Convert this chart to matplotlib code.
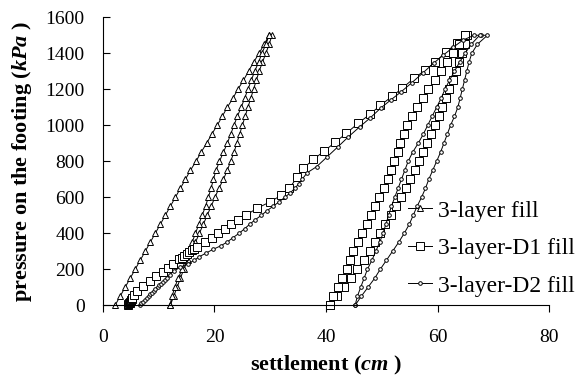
import matplotlib
matplotlib.use("Agg")
import matplotlib.pyplot as plt

plt.rcParams["font.family"] = ["Liberation Serif", "DejaVu Serif"]
plt.rcParams["mathtext.fontset"] = "custom"
plt.rcParams["mathtext.rm"] = "Liberation Serif:bold"
plt.rcParams["mathtext.it"] = "Liberation Serif:bold:italic"
plt.rcParams["mathtext.bf"] = "Liberation Serif:bold"

# pressure levels (kPa) used for the unloading / reloading branches
pressure_step = [0, 50, 100, 150, 200, 250, 300, 350, 400, 450, 500, 550, 600, 650, 700,
                 750, 800, 850, 900, 950, 1000, 1050, 1100, 1150, 1200, 1250, 1300, 1350,
                 1400, 1450, 1500]
pressure_down = [1500, 1450, 1400, 1350, 1300, 1250, 1200, 1150, 1100, 1050, 1000, 950, 900,
                 850, 800, 750, 700, 650, 600, 550, 500, 450, 400, 350, 300, 250, 200, 150,
                 100, 50, 0]

# ---- 3-layer fill (settlement, cm) ----
tri_load_p = pressure_step
tri_load_s = [2.2, 3.1, 4.0, 4.9, 5.8, 6.7, 7.6, 8.5, 9.4, 10.3, 11.2, 12.1, 13.0, 13.9, 14.8,
              15.7, 16.7, 17.6, 18.6, 19.5, 20.5, 21.4, 22.3, 23.3, 24.2, 25.2, 26.1, 27.0,
              28.0, 28.9, 29.8]
tri_unload_s = [30.3, 29.8, 29.2, 28.6, 28.0, 27.5, 27.0, 26.5, 26.0, 25.5, 25.0, 24.5, 24.0,
                23.5, 22.9, 22.3, 21.6, 20.8, 20.1, 19.4, 18.7, 18.0, 17.3, 16.6, 15.9, 15.2,
                14.5, 13.9, 13.3, 12.7, 12.1]
tri_reload_s = [12.0, 12.4, 12.9, 13.5, 14.2, 14.8, 15.4, 16.0, 16.6, 17.2, 17.8, 18.4, 18.9,
                19.4, 19.8, 20.3, 20.9, 21.6, 22.3, 22.9, 23.5, 24.1, 24.8, 25.4, 26.0, 26.6,
                27.2, 27.9, 28.5, 29.2, 29.8]

# ---- 3-layer-D1 fill ----
sq_load_p = [0, 5, 10, 15, 20, 25, 30, 35, 40, 55, 78, 105, 133, 160, 183, 205, 230, 255, 265,
             275, 285, 295, 305, 315, 325, 350, 375, 400, 425, 450, 475, 500, 540, 575, 610,
             650, 710, 760, 810, 855, 905, 955, 1010, 1060, 1110, 1160, 1205, 1260, 1305,
             1350, 1405, 1455, 1500]
sq_load_s = [4.5, 4.6, 4.7, 4.8, 4.9, 5.0, 5.1, 5.2, 5.3, 5.5, 6.1, 7.2, 8.4, 9.6, 10.7, 11.7,
             12.6, 13.6, 14.1, 14.5, 15.0, 15.5, 15.9, 16.4, 16.9, 18.3, 19.6, 20.6, 21.9,
             23.0, 24.3, 25.6, 27.7, 30.0, 31.9, 33.4, 34.8, 35.9, 37.7, 39.6, 41.6, 43.6,
             45.7, 47.8, 49.7, 51.8, 53.6, 55.7, 57.7, 59.5, 61.4, 63.4, 64.9]
sq_unload_s = [65.2, 64.8, 64.3, 63.8, 63.2, 62.7, 62.1, 61.4, 60.8, 60.2, 59.5, 58.8, 58.1,
               57.4, 56.7, 55.9, 55.1, 54.3, 53.5, 52.5, 51.6, 50.6, 49.6, 48.7, 47.8, 46.7,
               45.6, 44.4, 43.2, 42.0, 40.7]
sq_reload_s = [40.7, 41.3, 42.1, 42.9, 43.7, 44.3, 44.9, 45.7, 46.5, 47.3, 48.1, 48.8, 49.5,
               50.3, 51.0, 51.6, 52.2, 52.8, 53.3, 53.9, 54.5, 55.4, 56.3, 57.3, 58.3, 59.5,
               60.6, 61.7, 62.7, 63.8, 64.9]

# ---- 3-layer-D2 fill ----
ci_load_p = [0, 10, 20, 30, 40, 50, 60, 70, 80, 90, 100, 110, 120, 130, 140, 150, 170, 190,
             210, 230, 250, 270, 290, 310, 330, 350, 375, 400, 425, 450, 475, 500, 525, 550,
             575, 600, 625, 650, 675, 700, 736, 770, 825, 880, 936, 991, 1041, 1096, 1141,
             1185, 1235, 1290, 1346, 1390, 1434, 1473, 1500, 1500]
ci_load_s = [6.6, 6.9, 7.2, 7.5, 7.9, 8.2, 8.5, 8.8, 9.1, 9.4, 9.8, 10.1, 10.4, 10.8, 11.1,
             11.5, 12.0, 12.7, 13.8, 15.2, 16.4, 17.3, 18.5, 19.7, 21.1, 22.2, 23.3, 24.4,
             25.4, 26.3, 27.3, 28.4, 29.4, 30.5, 31.6, 32.6, 33.6, 34.4, 35.1, 35.7, 36.6,
             38.3, 40.2, 42.1, 44.0, 46.0, 47.9, 49.8, 51.6, 53.4, 55.3, 57.3, 59.3, 61.0,
             62.8, 64.5, 66.5, 67.8]
ci_unload_s = [68.9, 67.1, 66.1, 65.6, 65.2, 64.8, 64.4, 64.0, 63.6, 63.0, 62.3, 61.7, 61.1,
               60.5, 59.8, 59.1, 58.4, 57.8, 57.1, 56.3, 55.6, 54.9, 54.0, 53.0, 51.9, 50.8,
               49.7, 48.7, 47.5, 46.3, 45.2]
ci_reload_s = [45.2, 45.6, 46.2, 46.8, 47.4, 48.2, 48.9, 49.6, 50.2, 50.7, 51.2, 51.7, 52.3,
               52.9, 53.5, 54.1, 54.7, 55.5, 56.5, 57.4, 58.2, 59.0, 59.8, 60.6, 61.3, 62.1,
               63.0, 63.9, 64.9, 66.0, 67.5]

labels = ["3-layer fill", "3-layer-D1 fill", "3-layer-D2 fill"]

series = [
    (tri_load_s + tri_unload_s + tri_reload_s,
     tri_load_p + pressure_down + pressure_step, "^", 5.0),
    (sq_load_s + sq_unload_s + sq_reload_s,
     sq_load_p + pressure_down + pressure_step, "s", 5.5),
    (ci_load_s + ci_unload_s + ci_reload_s,
     ci_load_p + pressure_down + pressure_step, "o", 2.6),
]

fig = plt.figure(figsize=(5.76, 3.79), dpi=100)
ax = fig.add_axes([0.1785, 0.1945, 0.7753, 0.7599])

for (xs, ys, mk, ms), lab in zip(series, labels):
    ax.plot(xs, ys, color="black", lw=0.7, marker=mk, ms=ms, mfc="white",
            mec="black", mew=0.7, label=lab, clip_on=False)

ax.set_xlim(0, 80)
ax.set_ylim(0, 1600)
ax.set_xticks([0, 20, 40, 60, 80])
ax.set_yticks([0, 200, 400, 600, 800, 1000, 1200, 1400, 1600])

for side in ("top", "right"):
    ax.spines[side].set_visible(False)
for side in ("left", "bottom"):
    ax.spines[side].set_linewidth(0.8)

ax.tick_params(axis="x", direction="out", length=5, width=0.8, labelsize=14, pad=12)
ax.tick_params(axis="y", direction="in", length=5, width=0.8, labelsize=14, pad=13)

ax.set_xlabel("settlement ($cm$ )", fontsize=16, fontweight="bold", labelpad=6)
ax.set_ylabel("pressure on the footing ($kPa$ )", fontsize=16, fontweight="bold",
              labelpad=8)

leg = ax.legend(loc="upper left", bbox_to_anchor=(408 / 576, 1 - 200 / 379),
                bbox_transform=fig.transFigure, frameon=False, fontsize=17,
                handlelength=1.0, handletextpad=0.25, labelspacing=0.68,
                borderpad=0, borderaxespad=0)

fig.savefig("out.png", dpi=100)
